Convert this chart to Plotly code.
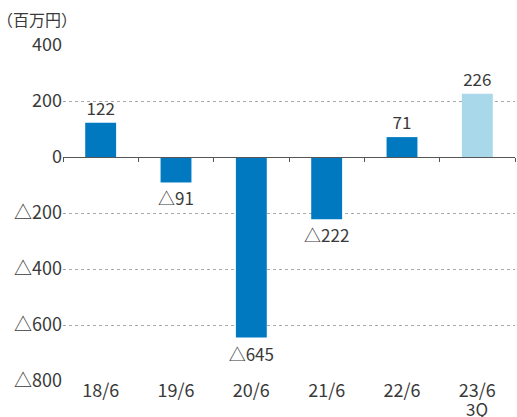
import plotly.graph_objects as go

categories = ["18/6", "19/6", "20/6", "21/6", "22/6", "23/6"]
sublabels = ["", "", "", "", "", "3Q"]
values = [122, -91, -645, -222, 71, 226]
bar_colors = ["#0079C1", "#0079C1", "#0079C1", "#0079C1", "#0079C1", "#A9D8EB"]
y_ticks = [400, 200, 0, -200, -400, -600, -800]

def fmt(v):
    return f"△{abs(v)}" if v < 0 else f"{v}"

FONT = "Noto Sans CJK JP"
TXT = "#3a3a3a"

fig = go.Figure()
fig.add_trace(go.Bar(
    x=list(range(len(categories))), y=values,
    marker=dict(color=bar_colors, line=dict(width=0)),
    width=0.41,
    text=[fmt(v) for v in values], textposition="outside",
    constraintext="none",
    textfont=dict(family=FONT, size=17, color=TXT),
    cliponaxis=False,
))
fig.add_trace(go.Scatter(x=[0], y=[0], xaxis="x2", mode="markers",
                         marker=dict(opacity=0), showlegend=False, hoverinfo="skip"))

ymin, ymax = -800, 400
annotations = [dict(
    text="（百万円）", xref="paper", yref="paper", x=0, y=1,
    xshift=-68, yshift=26, xanchor="left", yanchor="middle", showarrow=False,
    font=dict(family=FONT, size=16, color=TXT),
)]
for i, s in enumerate(sublabels):
    if s:
        annotations.append(dict(
            text=s, xref="x", yref="paper", x=i, y=0, yshift=-27,
            xanchor="center", yanchor="middle", showarrow=False,
            font=dict(family=FONT, size=17, color=TXT),
        ))

fig.update_layout(
    width=517, height=417,
    margin=dict(l=63, r=2, t=45, b=36),
    plot_bgcolor="white", paper_bgcolor="white",
    showlegend=False,
    font=dict(family=FONT, color=TXT),
    xaxis=dict(
        range=[-0.5, len(categories) - 0.5],
        tickvals=list(range(len(categories))), ticktext=categories,
        showgrid=False, zeroline=False, showline=False, ticks="",
        automargin=False, ticklabelstandoff=-3,
        tickfont=dict(family=FONT, size=18, color=TXT),
    ),
    xaxis2=dict(
        overlaying="x", anchor="free", position=(0 - ymin) / (ymax - ymin),
        range=[-0.5, len(categories) - 0.5],
        tickvals=[i - 0.5 for i in range(len(categories) + 1)],
        showticklabels=False, ticks="outside", ticklen=4, tickcolor="#555",
        showline=True, linecolor="#555", linewidth=1, showgrid=False, zeroline=False,
        side="bottom", automargin=False,
    ),
    yaxis=dict(
        range=[ymin, ymax], tickvals=y_ticks,
        ticktext=[fmt(v) for v in y_ticks],
        showgrid=True, gridcolor="#aaaaaa", griddash="dot", gridwidth=1,
        zeroline=False, showline=False, ticks="", automargin=False,
        tickfont=dict(family=FONT, size=18, color=TXT),
    ),
    annotations=annotations,
)
fig.write_html("out.html", config={"displayModeBar": False},
               post_script="document.body.style.margin='0px';")
